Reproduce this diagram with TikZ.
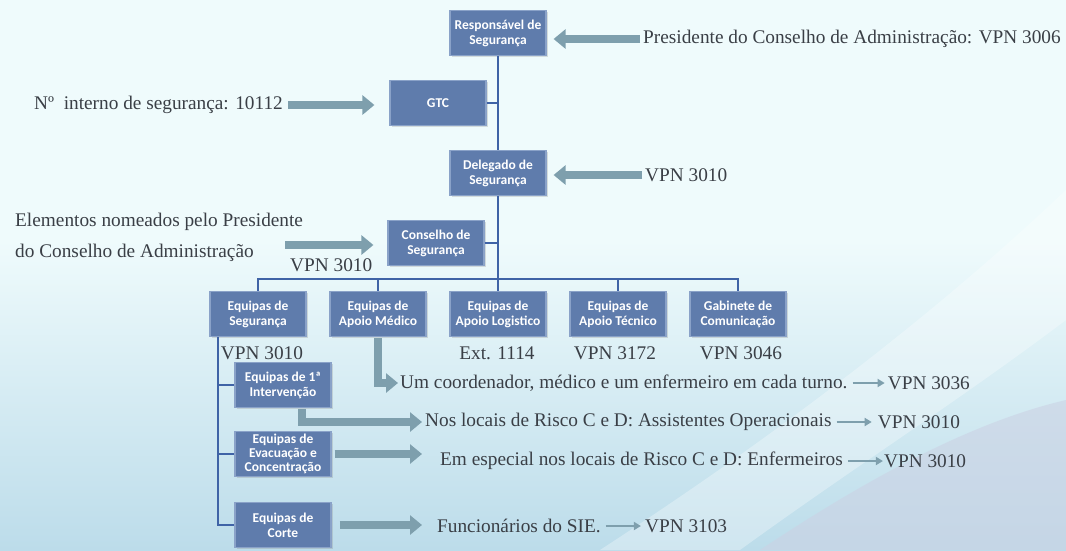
\documentclass[tikz,border=0pt]{standalone}
\usepackage{fontspec}
\setmainfont{Liberation Serif}
\newfontfamily\boxfont{Carlito}
\usetikzlibrary{arrows.meta,calc,shadows}
\definecolor{bgtop}{HTML}{EFFBFC}
\definecolor{bgbot}{HTML}{BCDCEA}
\definecolor{lav}{HTML}{CBD2E4}
\definecolor{boxfill}{HTML}{5F7CAC}
\definecolor{boxedge}{HTML}{8AA2C8}
\definecolor{linecol}{HTML}{3F63A6}
\definecolor{arrcol}{HTML}{7E9FAD}
\definecolor{txt}{HTML}{3A3F46}
\tikzset{
  orgbox/.style={draw=boxedge, line width=1.2pt, fill=boxfill, minimum width=96pt, minimum height=45pt,
    text=white, font=\boxfont\bfseries\fontsize{13.5}{15}\selectfont, align=center, inner sep=1pt,
    drop shadow={opacity=.25, shadow xshift=1.5pt, shadow yshift=-1.5pt}},
  conn/.style={draw=linecol, line width=2.4pt},
  blk/.style={draw=arrcol, line width=8pt, -{Triangle[length=12pt,width=19pt]}},
  thin/.style={draw=arrcol, line width=2.4pt, -{Triangle[length=7pt,width=8pt]}},
  lab/.style={text=txt, font=\fontsize{19.3}{23}\selectfont, inner sep=0pt},
}
\begin{document}
\begin{tikzpicture}[x=1pt,y=-1pt]
% background
\fill[bgtop] (0,0) rectangle (1066,550);
\shade[top color=bgtop, bottom color=bgbot] (0,240) rectangle (1066,550);
\fill[lav, opacity=.6] (760,550) .. controls (880,470) and (980,420) .. (1066,400) -- (1066,550) -- cycle;
\fill[white, opacity=.3] (600,550) .. controls (800,420) and (950,300) .. (1066,190) -- (1066,320) .. controls (960,400) and (850,470) .. (740,550) -- cycle;
\useasboundingbox (0,0) rectangle (1066,550);

% boxes
\node[orgbox] (resp)  at (498,33)  {Responsável de\\Segurança};
\node[orgbox] (gtc)   at (438,103) {GTC};
\node[orgbox] (deleg) at (498,173) {Delegado de\\Segurança};
\node[orgbox] (cons)  at (436,243) {Conselho de\\Segurança};
\node[orgbox] (seg)   at (258,314) {Equipas de\\Segurança};
\node[orgbox] (med)   at (378,314) {Equipas de\\Apoio Médico};
\node[orgbox] (log)   at (498,314) {Equipas de\\Apoio Logistico};
\node[orgbox] (tec)   at (618,314) {Equipas de\\Apoio Técnico};
\node[orgbox] (gab)   at (738,314) {Gabinete de\\Comunicação};
\node[orgbox] (int1)  at (283,385) {Equipas de 1ª\\Intervenção};
\node[orgbox, font=\boxfont\bfseries\fontsize{13.5}{14}\selectfont] (evac) at (283,454) {Equipas de\\Evacuação e\\Concentração};
\node[orgbox] (corte) at (283,525) {Equipas de\\Corte};

% hierarchy lines
\draw[conn] (resp.south) -- (deleg.north);
\draw[conn] (deleg.south) -- (log.north);
\draw[conn] (gtc.east) -- (gtc.east -| resp.south);
\draw[conn] (cons.east) -- (cons.east -| deleg.south);
\draw[conn] (seg.north) -- ++(0,-12) coordinate (busL) -| (gab.north);
\draw[conn] (med.north) -- (med.north |- busL);
\draw[conn] (tec.north) -- (tec.north |- busL);
\draw[conn] ([xshift=-40pt]seg.south) coordinate (sv) |- (corte.west);
\draw[conn] (sv |- int1.west) -- (int1.west);
\draw[conn] (sv |- evac.west) -- (evac.west);

% text labels
\node[lab, anchor=west] (pres) at (643,39) {Presidente do Conselho de Administração: VPN 3006};
\node[lab, anchor=west] (vpnD) at (645,175) {VPN 3010};
\node[lab, anchor=east] (num)  at (283,105) {Nº\ \ interno de segurança: 10112};
\node[lab, anchor=west, align=left] (elem) at (15,237) {Elementos nomeados pelo Presidente\\[8pt]do Conselho de Administração};
\node[lab, anchor=west] (vpnC) at (290,265) {VPN 3010};
\node[lab] (vseg) at (262,353) {VPN 3010};
\node[lab] (vlog) at (497,353) {Ext. 1114};
\node[lab] (vtec) at (615,353) {VPN 3172};
\node[lab] (vgab) at (741,353) {VPN 3046};

\node[lab, anchor=west] (um)   at (400,383) {Um coordenador, médico e um enfermeiro em cada turno.};
\node[lab, anchor=west] (um2)  at ($(um.east)+(40,0)$) {VPN 3036};
\node[lab, anchor=west] (nos)  at (425,422) {Nos locais de Risco C e D: Assistentes Operacionais};
\node[lab, anchor=west] (nos2) at ($(nos.east)+(46,0)$) {VPN 3010};
\node[lab, anchor=west] (em)   at (440,461) {Em especial nos locais de Risco C e D: Enfermeiros};
\node[lab, anchor=west] (em2)  at ($(em.east)+(41,0)$) {VPN 3010};
\node[lab, anchor=west] (fun)  at (437,526) {Funcionários do SIE.};
\node[lab, anchor=west] (fun2) at ($(fun.east)+(44,0)$) {VPN 3103};

% block arrows
\draw[blk, shorten >=7pt] ([xshift=-3pt]pres.west) -- (pres.west -| resp.east);
\draw[blk, shorten >=7pt] ([xshift=-3pt]vpnD.west) -- (vpnD.west -| deleg.east);
\coordinate (na) at ([xshift=5pt]num.east);
\draw[blk, shorten >=15pt] (na) -- (na -| gtc.west);
\coordinate (ea) at (285,245);
\draw[blk, shorten >=14pt] (ea) -- (ea -| cons.west);
\draw[blk] ([yshift=-1pt]med.south) |- ([xshift=-2pt]um.west);
\draw[blk] ([xshift=19pt,yshift=-1pt]int1.south) |- ([xshift=-3pt]nos.west);
\draw[blk, shorten >=18pt] ([xshift=3pt]evac.east) -- (evac.east -| em.west);
\draw[blk, shorten >=15pt] ([xshift=8pt]corte.east) -- (corte.east -| fun.west);

% thin arrows
\draw[thin] ([xshift=5pt]um.east) -- ([xshift=-3pt]um2.west);
\draw[thin] ([xshift=5pt]nos.east) -- ([xshift=-6pt]nos2.west);
\draw[thin] ([xshift=5pt]em.east) -- ([xshift=-1pt]em2.west);
\draw[thin] ([xshift=5pt]fun.east) -- ([xshift=-4pt]fun2.west);
\end{tikzpicture}
\end{document}
